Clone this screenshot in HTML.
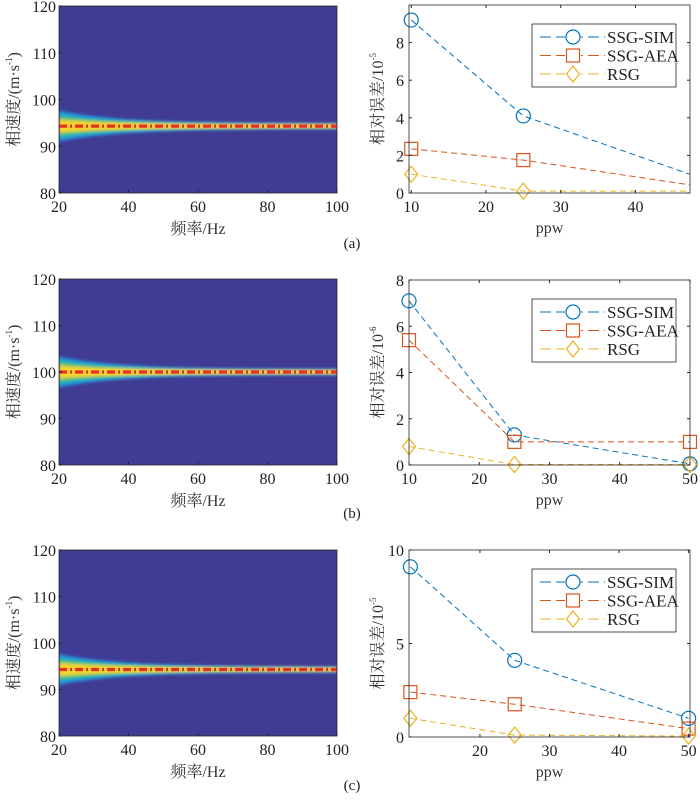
<!DOCTYPE html>
<html><head><meta charset="utf-8">
<style>
body{margin:0;background:#fff;}
svg{display:block;font-family:"Liberation Serif","Noto Serif CJK SC",serif;}
</style></head>
<body>
<svg id="fig" width="700" height="806" viewBox="0 0 700 806" xmlns="http://www.w3.org/2000/svg">
<defs>
<filter id="blur" x="-5%" y="-50%" width="110%" height="200%"><feGaussianBlur stdDeviation="1.4"/></filter>
</defs>
</svg>
<script>
// ---- data ----
const ppw = [10, 25, 50];
const simA = [9.2, 4.1, 0.62];
const aeaA = [2.35, 1.75, 0.27];
const rsgA = [1.0, 0.1, 0.1];
const simB = [7.1, 1.3, 0.05];
const aeaB = [5.4, 1.0, 1.0];
const rsgB = [0.8, 0.02, 0.02];
const simC = [9.1, 4.1, 1.0];
const aeaC = [2.4, 1.75, 0.45];
const rsgC = [1.0, 0.1, 0.05];
const bandVel = [94.3, 100, 94.3];
const freqTicks = [20, 40, 60, 80, 100];
const velTicks = [80, 90, 100, 110, 120];
const ppwTicksA = [10, 20, 30, 40];
const ppwTicksB = [10, 20, 30, 40, 50];
const ppwTicksC = [20, 30, 40, 50];
const errTicksA = [0, 2, 4, 6, 8];
const errTicksB = [0, 2, 4, 6, 8];
const errTicksC = [0, 5, 10];
const captions = ['(a)', '(b)', '(c)'];
const expLabels = ['-5', '-6', '-5'];

const NS = 'http://www.w3.org/2000/svg';
const svg = document.getElementById('fig');
function mk(tag, attrs, parent) {
  const e = document.createElementNS(NS, tag);
  for (const k in attrs) e.setAttribute(k, attrs[k]);
  (parent || svg).appendChild(e);
  return e;
}
const AX = '#262626';
const C1 = '#0072bd', C2 = '#d95319', C3 = '#edb120';

function heatPanel(top, bot, vel, idx) {
  const L = 59, R = 337;
  const g = mk('g', {});
  
  
  const xs = f => L + (f - 20) / 80 * (R - L);
  const ys = v => bot - (v - 80) / 40 * (bot - top);
  const bg = mk('rect', {x: L, y: top, width: R - L, height: bot - top, fill: '#413c93'}, g);
  
  
  const clip = mk('clipPath', {id: 'cl' + idx}, g);
  mk('rect', {x: L, y: top, width: R - L, height: bot - top}, clip);
  const bandG = mk('g', {'clip-path': 'url(#cl' + idx + ')', filter: 'url(#blur)'}, g);
  
  
  const levels = [[3.4, 0.7, '#2a7fd6'], [2.8, 0.6, '#1fa9c9'], [2.2, 0.5, '#3fc08a'], [1.6, 0.42, '#b8c84a'], [1.2, 0.38, '#f5d52a']];
  levels.forEach(([w0, w1, col]) => {
    const up = [], dn = [];
    for (let f = 20; f <= 101; f += 2) {
      const w = w1 + (w0 - w1) * Math.exp(-(f - 20) / 17);
      up.push(xs(f) + ',' + ys(vel + w));
      dn.unshift(xs(f) + ',' + ys(vel - w));
    }
    mk('polygon', {points: up.concat(dn).join(' '), fill: col}, bandG);
  });
  const ln = mk('line', {x1: L, x2: R, y1: ys(vel), y2: ys(vel), stroke: '#e8302a', 'stroke-width': 3.2, 'stroke-dasharray': '8,3,2,3'}, g);
  
  
  mk('rect', {x: L, y: top, width: R - L, height: bot - top, fill: 'none', stroke: AX, 'stroke-width': 0.8}, g);
  freqTicks.forEach(t => {
    mk('line', {x1: xs(t), x2: xs(t), y1: bot, y2: bot - 3, stroke: AX}, g);
    const tx = mk('text', {x: xs(t), y: bot + 19, 'font-size': 16, 'text-anchor': 'middle', fill: '#222'}, g);
    tx.textContent = t;
    
    
  });
  velTicks.forEach(t => {
    mk('line', {x1: L, x2: L + 3, y1: ys(t), y2: ys(t), stroke: AX}, g);
    const tx = mk('text', {x: L - 3, y: ys(t) + 6, 'font-size': 16, 'text-anchor': 'end', fill: '#222'}, g);
    tx.textContent = t;
    
    
  });
  const xt = mk('text', {x: (L + R) / 2, y: bot + 41, 'font-size': 16, 'text-anchor': 'middle', fill: '#333'}, g);
  xt.textContent = '频率/Hz';
  
  
  const yt = mk('text', {x: 0, y: 0, 'font-size': 16, 'text-anchor': 'middle', fill: '#333', transform: 'translate(19,' + ((top + bot) / 2) + ') rotate(-90)'}, g);
  yt.innerHTML = '相速度/(m·s<tspan font-size="9" dy="-7">-1</tspan><tspan dy="7">)</tspan>';
  
  
}

function marker(type, x, y, col, g) {
  let m;
  if (type === 'o') m = mk('circle', {cx: x, cy: y, r: 7, fill: 'none', stroke: col, 'stroke-width': 1.2}, g);
  else if (type === 's') m = mk('rect', {x: x - 6.5, y: y - 6.5, width: 13, height: 13, fill: 'none', stroke: col, 'stroke-width': 1.2}, g);
  else m = mk('polygon', {points: [x, y - 8, x + 6.5, y, x, y + 8, x - 6.5, y].join(' '), fill: 'none', stroke: col, 'stroke-width': 1.2}, g);
  return m;
}

function errPanel(top, bot, xmin, xmax, ymax, xticks, yticks, series, idx) {
  const L = 409, R = 690;
  const g = mk('g', {});
  
  
  const xs = v => L + (v - xmin) / (xmax - xmin) * (R - L);
  const ys = v => bot - v / ymax * (bot - top);
  mk('rect', {x: L, y: top, width: R - L, height: bot - top, fill: '#fff'}, g);
  const clip = mk('clipPath', {id: 'ce' + idx}, g);
  mk('rect', {x: L, y: top - 10, width: R - L, height: bot - top + 20}, clip);
  const names = ['SSG-SIM', 'SSG-AEA', 'RSG'];
  const cols = [C1, C2, C3];
  const types = ['o', 's', 'd'];
  const lg = mk('g', {'clip-path': 'url(#ce' + idx + ')'}, g);
  series.forEach((vals, si) => {
    const pts = ppw.map((p, i) => xs(p) + ',' + ys(vals[i])).join(' ');
    const pl = mk('polyline', {points: pts, fill: 'none', stroke: cols[si], 'stroke-width': 1, 'stroke-dasharray': '6,4'}, lg);
    
    
  });
  series.forEach((vals, si) => {
    ppw.forEach((p, i) => {
      if (p > xmax + 0.5) return;
      const m = marker(types[si], xs(p), ys(vals[i]), cols[si], g);
      
      
    });
  });
  mk('rect', {x: L, y: top, width: R - L, height: bot - top, fill: 'none', stroke: AX, 'stroke-width': 0.8}, g);
  xticks.forEach(t => {
    mk('line', {x1: xs(t), x2: xs(t), y1: bot, y2: bot - 3, stroke: AX}, g);
    mk('line', {x1: xs(t), x2: xs(t), y1: top, y2: top + 3, stroke: AX}, g);
    const tx = mk('text', {x: xs(t), y: bot + 19, 'font-size': 16, 'text-anchor': 'middle', fill: '#222'}, g);
    tx.textContent = t;
    
    
  });
  yticks.forEach(t => {
    mk('line', {x1: L, x2: L + 3, y1: ys(t), y2: ys(t), stroke: AX}, g);
    mk('line', {x1: R, x2: R - 3, y1: ys(t), y2: ys(t), stroke: AX}, g);
    const tx = mk('text', {x: L - 5, y: ys(t) + 6, 'font-size': 16, 'text-anchor': 'end', fill: '#222'}, g);
    tx.textContent = t;
    
    
  });
  const xt = mk('text', {x: (L + R) / 2, y: bot + 40, 'font-size': 16, 'text-anchor': 'middle', fill: '#333'}, g);
  xt.textContent = 'ppw';
  
  
  const yt = mk('text', {x: 0, y: 0, 'font-size': 16, 'text-anchor': 'middle', fill: '#333', transform: 'translate(383,' + ((top + bot) / 2) + ') rotate(-90)'}, g);
  yt.innerHTML = '相对误差/10<tspan font-size="9" dy="-7">' + expLabels[idx] + '</tspan>';
  
  
  // legend
  const lx = 532, ly = top + 19;
  const leg = mk('g', {}, g);
  
  
  mk('rect', {x: lx, y: ly, width: 144, height: 63, fill: '#fff', stroke: AX, 'stroke-width': 0.8}, leg);
  names.forEach((n, si) => {
    const yy = ly + 13 + si * 18.5;
    const e = mk('g', {}, leg);
    
    
    mk('line', {x1: lx + 8, x2: lx + 73, y1: yy, y2: yy, stroke: cols[si], 'stroke-width': 1, 'stroke-dasharray': '11,5'}, e);
    mk('rect', {x: lx + 33, y: yy - 8, width: 16, height: 16, fill: '#fff'}, e);
    marker(types[si], lx + 41, yy, cols[si], e);
    const tx = mk('text', {x: lx + 75, y: yy + 6, 'font-size': 17, fill: '#222'}, e);
    tx.textContent = n;
  });
}

const capY = [248, 518, 790];
heatPanel(6, 193, bandVel[0], 0);
errPanel(5, 193, 9.7, 47.3, 10, ppwTicksA, errTicksA, [simA, aeaA, rsgA], 0);
heatPanel(279, 465, bandVel[1], 1);
errPanel(280, 465, 10, 50, 8, ppwTicksB, errTicksB, [simB, aeaB, rsgB], 1);
heatPanel(550, 736, bandVel[2], 2);
errPanel(550, 737, 9.8, 50.2, 10, ppwTicksC, errTicksC, [simC, aeaC, rsgC], 2);
captions.forEach((c, i) => {
  const t = mk('text', {x: 352, y: capY[i], 'font-size': 15, 'text-anchor': 'middle', fill: '#222'});
  t.textContent = c;
  
  
});
</script>
</body></html>
